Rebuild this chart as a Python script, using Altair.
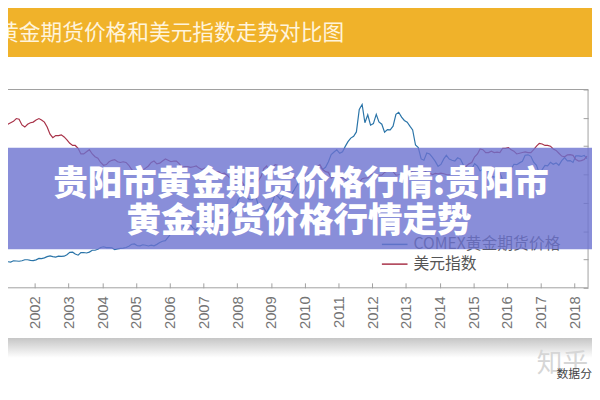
import altair as alt
import pandas as pd

# ---------------- data ----------------
title_text = "黄金期货价格和美元指数走势对比图"
banner_lines = ["贵阳市黄金期货价格行情:贵阳市", "黄金期货价格行情走势"]
series_names = ["COMEX黄金期货价格", "美元指数"]
series_colors = ["#2a74a8", "#a83248"]
watermark_big = "知乎"
watermark_small = "数据分"
year_labels = list(range(2001, 2019))
gold_ticks = [0, 200, 400, 600, 800, 1000, 1200, 1400, 1600, 1800, 2000]
dollar_ticks = [0, 20, 40, 60, 80, 100, 120, 140]

# monthly, Jan 2001 .. May 2018
gold_price = [
    266, 262, 263, 260, 272, 270, 268, 273, 283, 283, 276, 275,
    282, 296, 294, 302, 314, 322, 314, 310, 319, 317, 319, 333,
    357, 359, 340, 329, 355, 356, 351, 360, 379, 379, 389, 407,
    414, 405, 406, 404, 384, 392, 398, 400, 406, 420, 439, 442,
    424, 423, 434, 429, 422, 431, 424, 438, 456, 470, 476, 510,
    549, 555, 557, 610, 676, 596, 633, 632, 598, 586, 628, 629,
    631, 665, 655, 679, 667, 655, 665, 665, 712, 754, 806, 803,
    889, 922, 968, 909, 888, 890, 939, 839, 829, 806, 760, 816,
    858, 943, 924, 890, 928, 945, 934, 949, 996, 1043, 1127, 1135,
    1118, 1095, 1113, 1148, 1205, 1233, 1193, 1215, 1271, 1343, 1370, 1391,
    1356, 1372, 1424, 1474, 1510, 1529, 1572, 1800, 1850, 1665, 1745, 1640,
    1656, 1750, 1674, 1650, 1570, 1596, 1594, 1630, 1750, 1770, 1721, 1688,
    1670, 1628, 1592, 1440, 1414, 1300, 1286, 1360, 1349, 1316, 1275, 1225,
    1244, 1300, 1336, 1299, 1287, 1279, 1311, 1296, 1239, 1222, 1176, 1201,
    1251, 1227, 1179, 1198, 1199, 1181, 1128, 1117, 1125, 1159, 1086, 1068,
    1097, 1199, 1246, 1242, 1260, 1276, 1337, 1341, 1326, 1267, 1236, 1152,
    1192, 1234, 1231, 1266, 1246, 1260, 1236, 1283, 1314, 1280, 1283, 1265,
    1331, 1331, 1325, 1335, 1303,
]
dollar_index = [
    110.5, 111.5, 115.5, 116.5, 117.5, 119.5, 119.0, 115.0, 113.5, 115.5, 116.5, 117.0,
    118.5, 119.5, 118.5, 117.0, 113.5, 108.5, 106.0, 107.5, 107.5, 108.0, 106.5, 104.5,
    102.0, 100.5, 100.5, 98.5, 94.5, 94.5, 96.0, 97.5, 94.5, 92.5, 91.5, 88.5,
    86.5, 87.0, 89.0, 90.0, 90.5, 89.0, 88.5, 89.0, 88.5, 86.5, 83.5, 81.5,
    83.5, 83.0, 83.0, 84.5, 86.0, 88.5, 89.5, 87.5, 88.0, 89.5, 91.0, 90.0,
    89.0, 89.5, 89.5, 87.5, 85.0, 85.5, 85.5, 85.0, 85.5, 86.0, 84.5, 83.5,
    84.5, 84.0, 83.0, 81.5, 81.5, 82.0, 80.5, 81.0, 79.5, 77.5, 75.5, 76.5,
    75.5, 75.5, 72.5, 72.5, 73.0, 72.8, 72.5, 75.5, 78.5, 84.0, 86.0, 82.5,
    84.5, 87.0, 86.5, 85.0, 82.5, 80.5, 79.5, 78.5, 77.5, 76.5, 75.5, 76.5,
    78.0, 80.5, 80.9, 81.0, 85.5, 87.0, 83.5, 82.0, 81.5, 77.5, 78.5, 80.5,
    78.5, 77.5, 76.5, 74.5, 74.5, 74.8, 74.7, 74.5, 77.0, 77.5, 77.5, 79.5,
    80.5, 79.0, 79.5, 79.5, 81.5, 82.5, 83.0, 82.0, 79.5, 79.8, 80.5, 80.0,
    79.5, 80.5, 82.5, 82.5, 83.5, 82.5, 83.0, 81.5, 81.0, 80.0, 80.8, 80.5,
    81.0, 80.5, 80.0, 79.8, 80.0, 80.6, 80.8, 82.5, 84.5, 85.8, 87.5, 88.5,
    92.5, 94.5, 98.0, 97.5, 95.5, 95.5, 96.5, 95.5, 95.8, 95.5, 98.5, 98.5,
    99.0, 97.5, 96.5, 94.5, 95.0, 95.5, 96.0, 95.5, 95.5, 97.5, 100.0, 102.0,
    101.5, 100.5, 100.5, 100.0, 98.0, 97.0, 95.0, 93.0, 92.5, 93.8, 94.0, 93.5,
    90.5, 89.5, 89.8, 90.5, 93.0,
]

months = pd.date_range("2001-01-01", periods=len(gold_price), freq="MS") + pd.Timedelta(days=14)
df = pd.DataFrame({"date": months, "gold": gold_price, "dxy": dollar_index})
one = pd.DataFrame({"k": [0]})

# ---------------- chart ----------------
W, H = 588, 201
CJK = "Noto Sans CJK SC"

x_enc = alt.X(
    "date:T",
    scale=alt.Scale(domain=[alt.DateTime(year=2001, month=3, date=17),
                            alt.DateTime(year=2018, month=5, date=27)], nice=False),
    axis=alt.Axis(orient="bottom", offset=-5, tickSize=5, tickColor="#a0a0a0",
                  values=[alt.DateTime(year=y, month=1, date=1) for y in year_labels],
                  format="%Y", labelAngle=270, labelPadding=8, labelFontSize=15,
                  labelColor="#747474", labelFont="Liberation Sans", labelFlush=False,
                  labelOverlap=False, labelBound=False, domain=False, grid=False, title=None),
)

gold_line = alt.Chart(df).mark_line(color=series_colors[0], strokeWidth=1.2, clip=True).encode(
    x=x_enc,
    y=alt.Y("gold:Q", scale=alt.Scale(domain=[0, 2000], nice=False, zero=False), axis=None),
)

dxy_line = alt.Chart(df).mark_line(color=series_colors[1], strokeWidth=1.2, clip=True).encode(
    x=x_enc,
    y=alt.Y("dxy:Q", scale=alt.Scale(domain=[0, 140], nice=False, zero=False),
            axis=alt.Axis(orient="right", offset=-5, tickSize=5, tickColor="#a0a0a0",
                          values=dollar_ticks, labels=False, domain=False, grid=False, title=None)),
)

lines = alt.layer(gold_line, dxy_line).resolve_scale(y="independent")

frame = alt.Chart(one).mark_rect(filled=False, stroke="#a0a0a0", strokeWidth=1).encode(
    x=alt.value(-6), x2=alt.value(W), y=alt.value(0), y2=alt.value(H))

legend_layers = []
for i, (name, col) in enumerate(zip(series_names, series_colors)):
    yy = 157 + 20 * i
    legend_layers.append(alt.Chart(one).mark_rule(color=col, strokeWidth=1.5).encode(
        x=alt.value(379), x2=alt.value(405), y=alt.value(yy)))
    legend_layers.append(alt.Chart(one).mark_text(
        text=name, font=CJK, fontSize=16, color="#555555", align="left", baseline="middle").encode(
        x=alt.value(411), y=alt.value(yy)))

header = alt.Chart(one).mark_rect(color="#f0b22a").encode(
    x=alt.value(-8), x2=alt.value(600), y=alt.value(-84), y2=alt.value(-33))
header_text = alt.Chart(one).mark_text(
    text=title_text, font=CJK, fontSize=22, color="#fff4dc", align="left", baseline="middle").encode(
    x=alt.value(-11), y=alt.value(-57))

shadow = alt.Chart(one).mark_rect(
    fill=alt.Gradient(gradient="linear", x1=0, y1=0, x2=0, y2=1,
                      stops=[alt.GradientStop(offset=0, color="#c6c6c6"),
                             alt.GradientStop(offset=1, color="#ffffff")])).encode(
    x=alt.value(-8), x2=alt.value(600), y=alt.value(252), y2=alt.value(272))

wm1 = alt.Chart(one).mark_text(text=watermark_big, font=CJK, fontSize=26, color="#d6d6d6",
                               align="left", baseline="middle").encode(x=alt.value(536), y=alt.value(278))
wm2 = alt.Chart(one).mark_text(text=watermark_small, font=CJK, fontSize=12, color="#444444",
                               align="left", baseline="middle").encode(x=alt.value(556), y=alt.value(288))

banner = alt.Chart(one).mark_rect(color="#6b72cf", opacity=0.8).encode(
    x=alt.value(-8), x2=alt.value(600), y=alt.value(59), y2=alt.value(162))
banner_t1 = alt.Chart(one).mark_text(text=banner_lines[0], font=CJK, fontSize=35, fontWeight=900,
                                     color="#ffffff", align="center", baseline="middle").encode(
    x=alt.value(297), y=alt.value(96))
banner_t2 = alt.Chart(one).mark_text(text=banner_lines[1], font=CJK, fontSize=35, fontWeight=900,
                                     color="#ffffff", align="center", baseline="middle").encode(
    x=alt.value(295), y=alt.value(133))

chart = alt.layer(
    lines, frame, *legend_layers, header, header_text, shadow, wm1, wm2,
    banner, banner_t1, banner_t2,
).properties(
    width=W, height=H,
    padding={"left": 0, "top": 80, "right": 4, "bottom": 103},
    autosize=alt.AutoSizeParams(type="none"),
    background="#ffffff",
).configure_view(strokeWidth=0)

chart.save("out.html", embed_options={"renderer": "svg", "actions": False})
